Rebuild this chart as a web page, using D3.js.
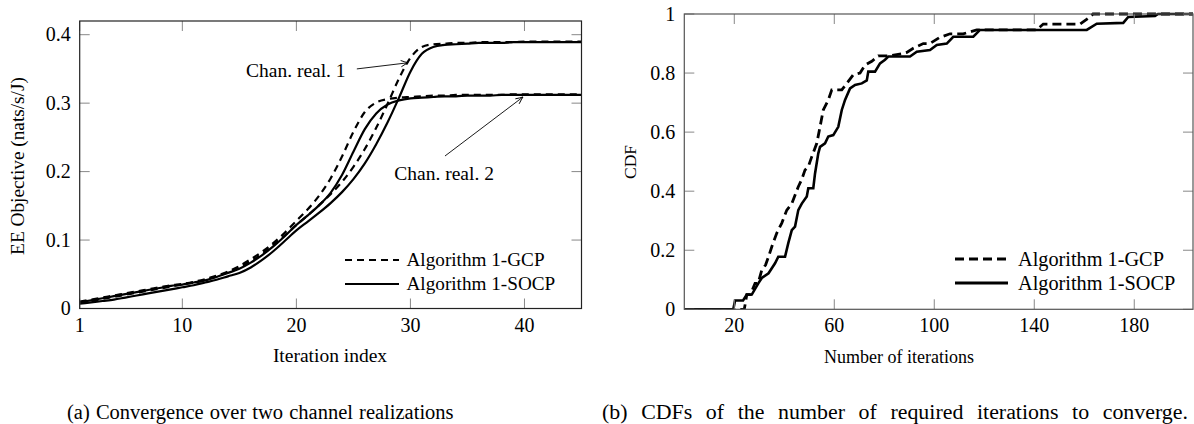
<!DOCTYPE html>
<html><head><meta charset="utf-8">
<script src="https://cdn.jsdelivr.net/npm/d3@7"></script>
<style>
html,body{margin:0;padding:0;background:#fff;}
svg text{font-family:'Liberation Serif','Times New Roman',serif;}
</style></head>
<body><svg id="c" width="1194" height="424"></svg>
<script>
// ---------- Data: (a) convergence ----------
const iterations = d3.range(1, 46);
const chan1GCP = [0.009,0.011,0.014,0.017,0.020,0.023,0.026,0.029,0.032,0.035,0.038,0.042,0.047,0.053,0.060,0.069,0.080,0.093,0.107,0.122,0.136,0.151,0.167,0.185,0.207,0.233,0.264,0.299,0.336,0.366,0.382,0.386,0.387,0.388,0.388,0.389,0.389,0.389,0.389,0.390,0.390,0.390,0.390,0.390,0.390];
const chan1SOCP = [0.007,0.009,0.011,0.013,0.016,0.019,0.022,0.025,0.028,0.031,0.034,0.038,0.042,0.047,0.052,0.060,0.071,0.084,0.099,0.114,0.127,0.140,0.154,0.170,0.189,0.212,0.240,0.272,0.308,0.346,0.372,0.382,0.385,0.386,0.387,0.388,0.388,0.388,0.389,0.389,0.389,0.389,0.389,0.389,0.389];
const chan2GCP = [0.010,0.013,0.016,0.019,0.022,0.025,0.028,0.031,0.034,0.036,0.039,0.043,0.048,0.054,0.062,0.072,0.083,0.096,0.111,0.128,0.145,0.165,0.190,0.222,0.258,0.287,0.301,0.306,0.308,0.309,0.310,0.311,0.311,0.312,0.312,0.312,0.312,0.312,0.313,0.313,0.313,0.313,0.313,0.313,0.313];
const chan2SOCP = [0.009,0.012,0.015,0.018,0.021,0.024,0.027,0.030,0.033,0.035,0.038,0.041,0.046,0.052,0.058,0.067,0.078,0.091,0.106,0.122,0.136,0.151,0.169,0.195,0.229,0.262,0.285,0.298,0.304,0.307,0.308,0.309,0.310,0.310,0.311,0.311,0.311,0.312,0.312,0.312,0.312,0.312,0.312,0.312,0.312];
const leftXTicks = [1, 10, 20, 30, 40];
const leftYTicks = [0, 0.1, 0.2, 0.3, 0.4];

// ---------- Data: (b) CDFs ----------
const gcpIter = [0,24,25,26.5,28.3,29.5,31,32.5,33.7,35,37,39,41,43,45.6,47,48.3,49.6,51,53,54.3,55.6,57.6,59,63,65,67.6,70.3,72.3,75,77.6,82,87,89,91.6,95.6,98.3,102,106.3,111.6,117,141,143.6,158.3,162.3,163.5,204];
const gcpCdf  = [0,0,0.05,0.05,0.088,0.088,0.133,0.15,0.178,0.212,0.258,0.292,0.336,0.358,0.415,0.44,0.472,0.483,0.517,0.562,0.618,0.675,0.709,0.743,0.743,0.765,0.794,0.80,0.827,0.84,0.858,0.858,0.865,0.87,0.884,0.90,0.90,0.92,0.933,0.933,0.946,0.946,0.966,0.966,0.99,1,1];
const socpIter = [0,19.6,20.3,23.5,25,27,29.6,31,33.7,36.3,37.6,40.3,41.6,43,44.3,45.6,47,49,49.6,51.6,52.3,53.6,54.3,56.3,57.6,59.6,61.6,63,64.3,66.3,68.3,71,73,73.6,76.3,78.3,80.3,81.6,90.3,93,98.3,101,105,107.6,115.6,118.3,161,165,175.6,177.6,188.3,189.5,204];
const socpCdf  = [0,0,0.03,0.03,0.05,0.05,0.088,0.106,0.122,0.156,0.178,0.178,0.224,0.268,0.28,0.336,0.358,0.382,0.41,0.41,0.46,0.528,0.55,0.562,0.585,0.59,0.618,0.675,0.709,0.748,0.76,0.765,0.775,0.805,0.805,0.833,0.845,0.856,0.856,0.872,0.878,0.895,0.90,0.923,0.923,0.946,0.946,0.967,0.97,0.99,0.993,1,1];
const rightXTicks = [20, 60, 100, 140, 180];
const rightYTicks = [0, 0.2, 0.4, 0.6, 0.8, 1];

const TFS = 20;
const svg = d3.select("#c");

function frame(g, x, y, xt, yt, fmtY, col) {
  const [x0, x1] = x.range(), [y0, y1] = y.range();
  const tl = 10;
  const tg = g.append("g").attr("stroke", "#888").attr("stroke-width", 1);
  xt.forEach(t => {
    tg.append("line").attr("x1", x(t)).attr("x2", x(t)).attr("y1", y0).attr("y2", y0 - tl);
    tg.append("line").attr("x1", x(t)).attr("x2", x(t)).attr("y1", y1).attr("y2", y1 + tl);
    g.append("text").attr("x", x(t)).attr("y", y0 + 23).attr("text-anchor", "middle").attr("font-size", TFS).text(t);
  });
  yt.forEach(t => {
    tg.append("line").attr("x1", x0).attr("x2", x0 + tl).attr("y1", y(t)).attr("y2", y(t));
    tg.append("line").attr("x1", x1).attr("x2", x1 - tl).attr("y1", y(t)).attr("y2", y(t));
    g.append("text").attr("x", x0 - 9).attr("y", y(t) + 6.5).attr("text-anchor", "end").attr("font-size", TFS).text(fmtY(t));
  });
  g.append("rect").attr("x", x0).attr("y", y1).attr("width", x1 - x0).attr("height", y0 - y1)
    .attr("fill", "none").attr("stroke", col).attr("stroke-width", 1.2);
}

// ---------- (a) ----------
const xa = d3.scaleLinear().domain([1, 45]).range([79.7, 581.5]);
const ya = d3.scaleLinear().domain([0, 0.42]).range([308.5, 21]);
const defs = svg.append("defs");
defs.append("clipPath").attr("id", "clipA").append("rect")
  .attr("x", 79.7).attr("y", 21).attr("width", 581.5 - 79.7).attr("height", 308.5 - 21);
const ga = svg.append("g");
const lineA = d3.line().x((d, i) => xa(iterations[i])).y(d => ya(d)).curve(d3.curveMonotoneX);
const curvesA = ga.append("g").attr("clip-path", "url(#clipA)");
[[chan1GCP, true], [chan1SOCP, false], [chan2GCP, true], [chan2SOCP, false]].forEach(([s, dashed]) => {
  curvesA.append("path").attr("d", lineA(s)).attr("fill", "none").attr("stroke", "#000")
    .attr("stroke-width", 2.2).attr("stroke-dasharray", dashed ? "7,5" : null);
});
frame(ga, xa, ya, leftXTicks, leftYTicks, d => d === 0 ? "0" : d3.format(".1f")(d), "#222");

// arrows
defs.append("marker").attr("id", "arr").attr("viewBox", "0 0 10 10").attr("refX", 9).attr("refY", 5)
  .attr("markerWidth", 9).attr("markerHeight", 9).attr("markerUnits", "userSpaceOnUse").attr("orient", "auto")
  .append("path").attr("d", "M1,1.5 Q6,4 9,5 Q6,6 1,8.5").attr("fill", "none").attr("stroke", "#000").attr("stroke-width", 1);
ga.append("line").attr("x1", xa(25.3)).attr("y1", ya(0.350)).attr("x2", xa(29.8)).attr("y2", ya(0.359))
  .attr("stroke", "#000").attr("stroke-width", 0.9).attr("marker-end", "url(#arr)");
ga.append("text").attr("x", xa(19.95)).attr("y", ya(0.3375)).attr("text-anchor", "middle").attr("font-size", 19.5).text("Chan. real. 1");
ga.append("line").attr("x1", xa(33.03)).attr("y1", ya(0.2228)).attr("x2", xa(39.87)).attr("y2", ya(0.309))
  .attr("stroke", "#000").attr("stroke-width", 0.9).attr("marker-end", "url(#arr)");
ga.append("text").attr("x", xa(32.95)).attr("y", ya(0.187)).attr("text-anchor", "middle").attr("font-size", 19.5).text("Chan. real. 2");

// legend (a)
[["Algorithm 1-GCP", true, 260], ["Algorithm 1-SOCP", false, 284]].forEach(([t, dashed, yy]) => {
  ga.append("line").attr("x1", 345).attr("x2", 399).attr("y1", yy).attr("y2", yy).attr("stroke", "#000")
    .attr("stroke-width", 2.2).attr("stroke-dasharray", dashed ? "7,5" : null);
  ga.append("text").attr("x", 406.5).attr("y", yy + 6).attr("font-size", 19.2).text(t);
});
ga.append("text").attr("x", 330).attr("y", 362).attr("text-anchor", "middle").attr("font-size", 19.5).text("Iteration index");
ga.append("text").attr("transform", "translate(24,166) rotate(-90)").attr("text-anchor", "middle").attr("font-size", 19.3).text("EE Objective (nats/s/J)");
ga.append("text").attr("x", 67).attr("y", 419).attr("font-size", 20.5).attr("word-spacing", 1).text("(a)  Convergence over two channel realizations");

// ---------- (b) ----------
const xb = d3.scaleLinear().domain([0, 203.5]).range([684.3, 1193]);
const yb = d3.scaleLinear().domain([0, 1]).range([309.3, 14]);
defs.append("clipPath").attr("id", "clipB").append("rect")
  .attr("x", 684.3).attr("y", 12).attr("width", 1193 - 684.3).attr("height", 309.3 - 12);
const gb = svg.append("g");
const lineB = d3.line().x(d => xb(d[0])).y(d => yb(d[1]));
const curvesB = gb.append("g").attr("clip-path", "url(#clipB)");
curvesB.append("path").attr("d", lineB(gcpIter.map((v, i) => [v, gcpCdf[i]]))).attr("fill", "none")
  .attr("stroke", "#000").attr("stroke-width", 2.8).attr("stroke-dasharray", "9,5");
curvesB.append("path").attr("d", lineB(socpIter.map((v, i) => [v, socpCdf[i]]))).attr("fill", "none")
  .attr("stroke", "#000").attr("stroke-width", 2.6);
frame(gb, xb, yb, rightXTicks, rightYTicks, d => d === 0 || d === 1 ? String(d) : d3.format(".1f")(d), "#555");

[["Algorithm 1-GCP", true, 259], ["Algorithm 1-SOCP", false, 283]].forEach(([t, dashed, yy]) => {
  gb.append("line").attr("x1", 955).attr("x2", 1008).attr("y1", yy).attr("y2", yy).attr("stroke", "#000")
    .attr("stroke-width", 2.8).attr("stroke-dasharray", dashed ? "9,5" : null);
  gb.append("text").attr("x", 1018).attr("y", yy + 6.5).attr("font-size", 20.3).text(t);
});
gb.append("text").attr("x", 899).attr("y", 363).attr("text-anchor", "middle").attr("font-size", 18).text("Number of iterations");
gb.append("text").attr("transform", "translate(636,162) rotate(-90)").attr("text-anchor", "middle").attr("font-size", 17.5).text("CDF");
// justified caption (b): stretch word spacing so it spans to the page edge
const capText = "(b) CDFs of the number of required iterations to converge.";
const capB = gb.append("text").attr("x", 602).attr("y", 419).attr("font-size", 21.9).text(capText);
const natural = capB.node().getComputedTextLength();
const gaps = capText.split(" ").length - 1;
capB.attr("word-spacing", Math.max(0, (586 - natural) / gaps));
</script></body></html>
